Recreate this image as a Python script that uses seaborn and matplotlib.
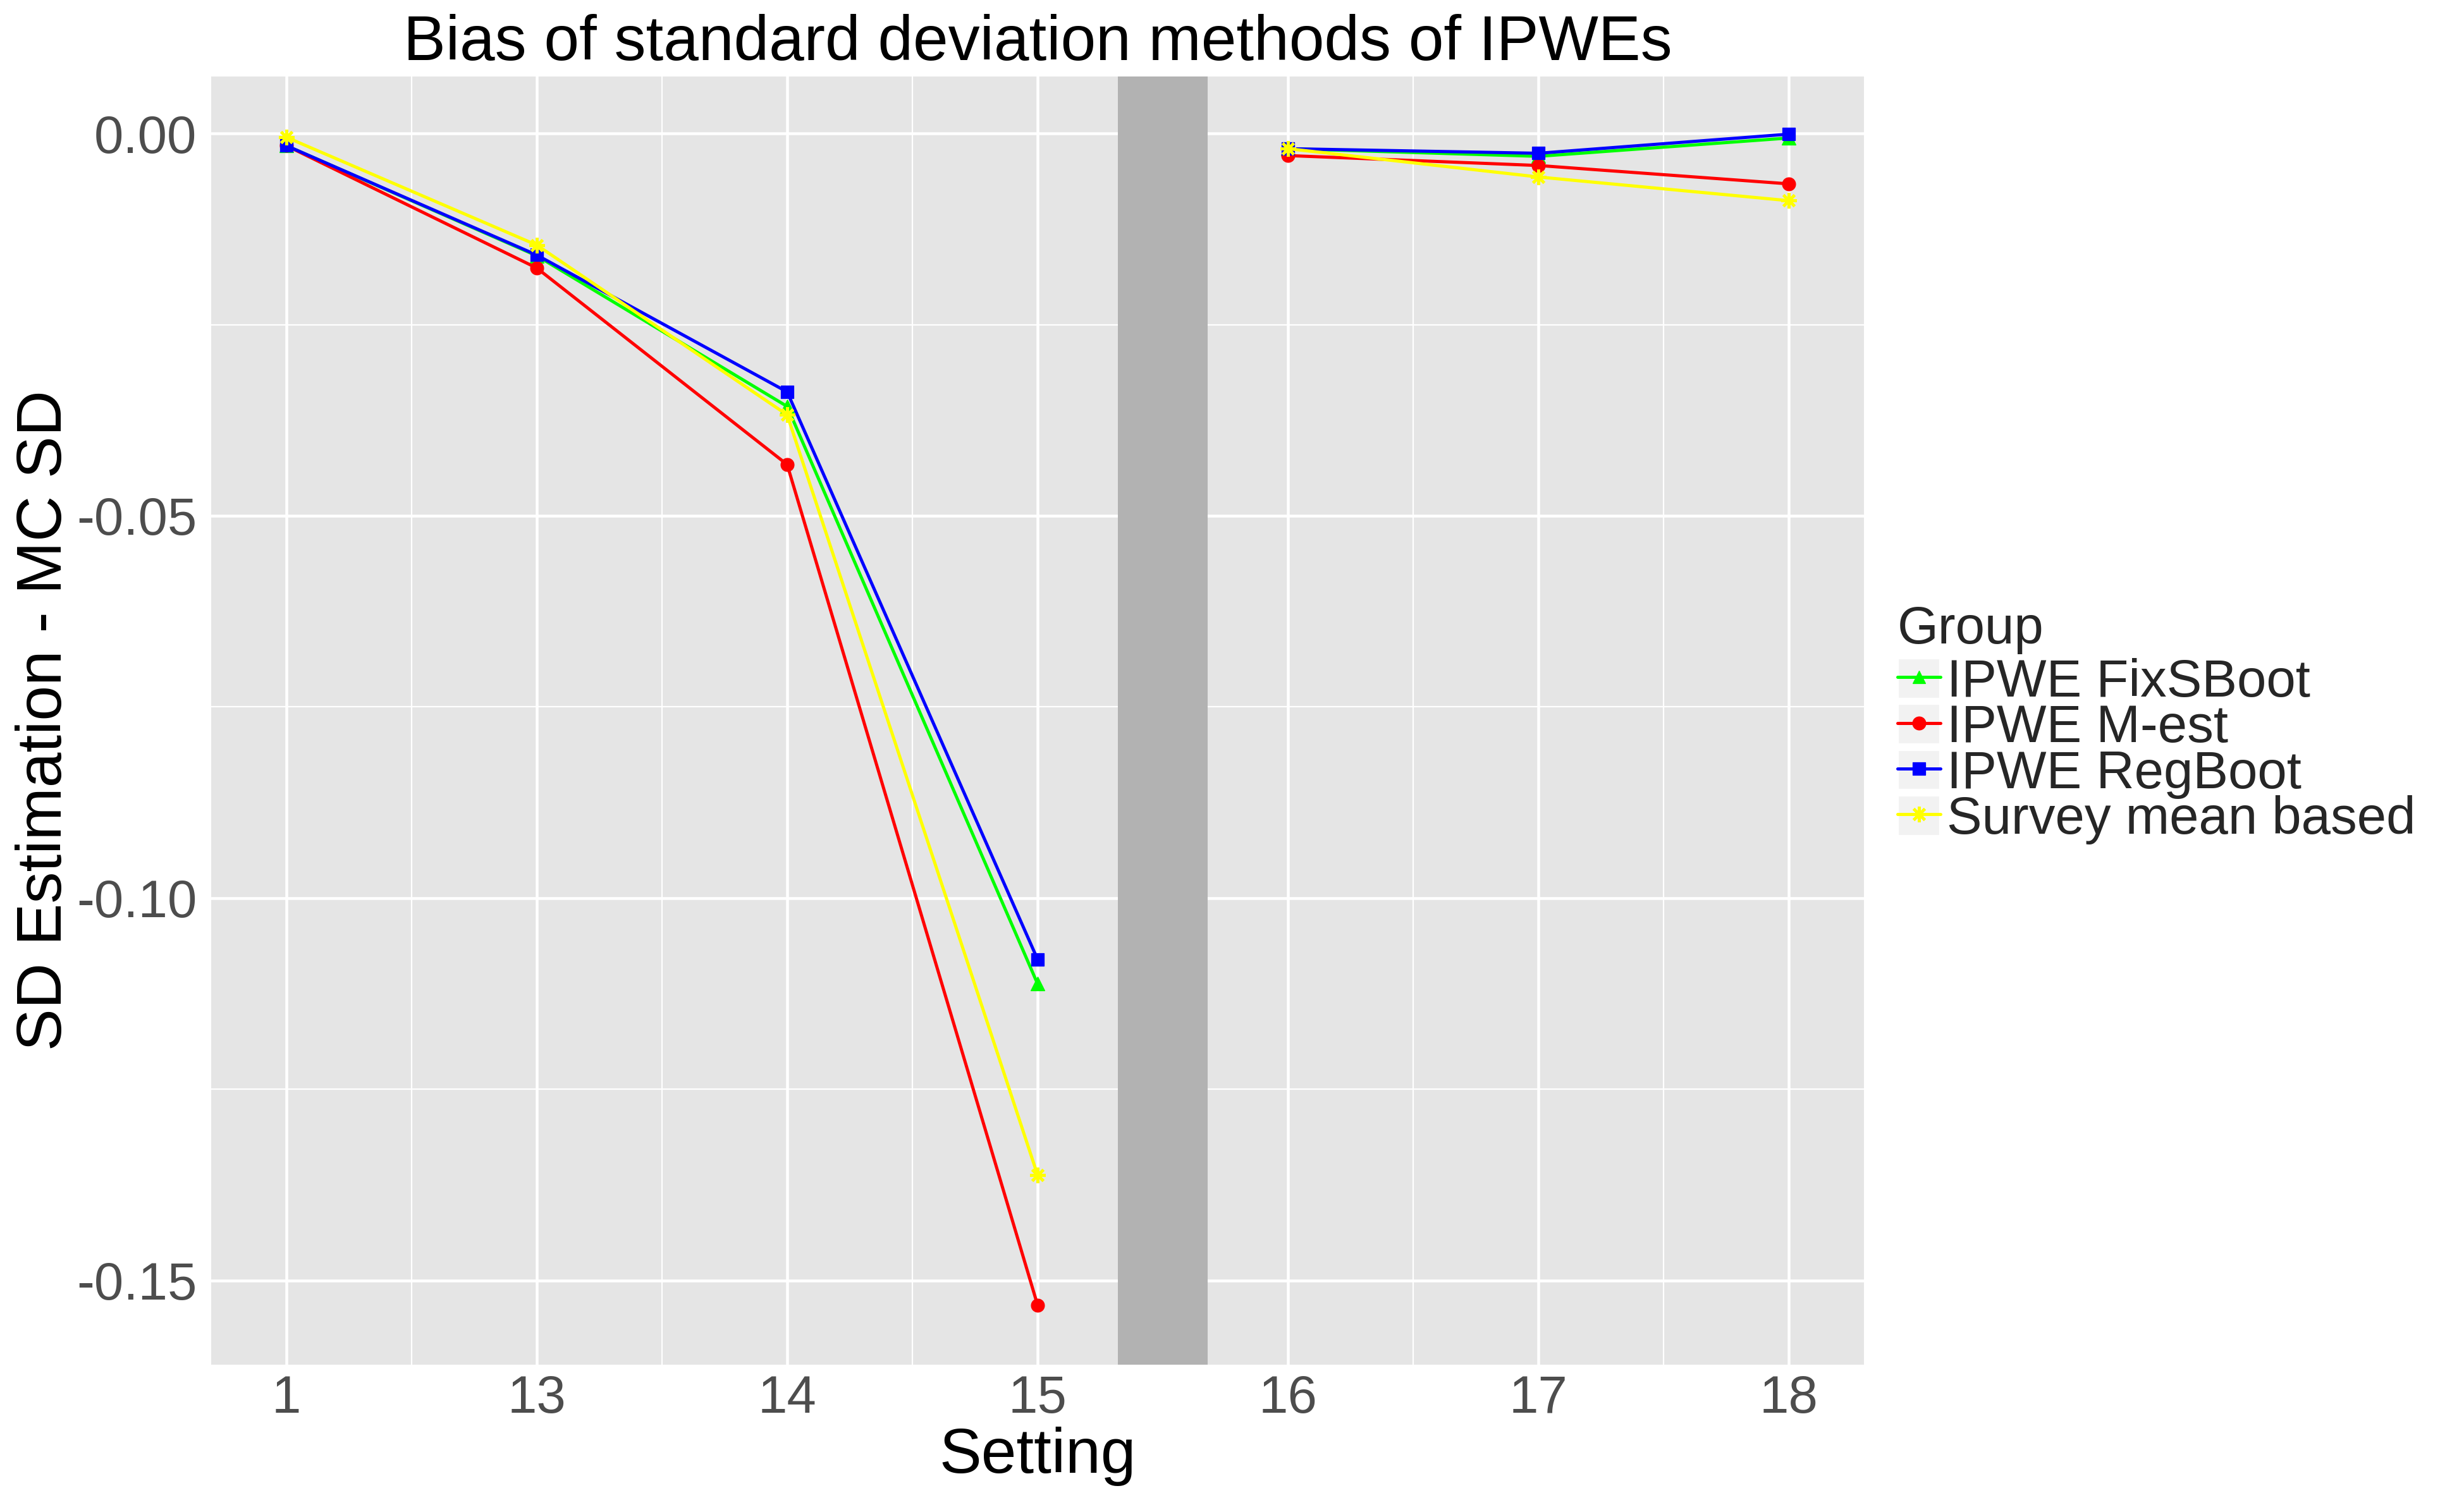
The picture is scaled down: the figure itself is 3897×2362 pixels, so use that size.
import numpy as np
import pandas as pd
import matplotlib
matplotlib.use("Agg")
import matplotlib.pyplot as plt
import matplotlib.colors as mcolors
import seaborn as sns
from matplotlib.lines import Line2D
from matplotlib.patches import Rectangle
from matplotlib.legend_handler import HandlerLine2D
from matplotlib.ticker import FixedLocator

# ---- data ----
settings = ["1", "13", "14", "15", "16", "17", "18"]
segment = [1, 1, 1, 1, 2, 2, 2]
groups = ["IPWE FixSBoot", "IPWE M-est", "IPWE RegBoot", "Survey mean based"]
fixsboot = [-0.0016, -0.0160, -0.0357, -0.1112, -0.0020, -0.0030, -0.0006]
mest = [-0.0016, -0.0176, -0.0433, -0.1532, -0.0029, -0.0042, -0.0066]
regboot = [-0.0016, -0.0159, -0.0338, -0.1080, -0.0020, -0.0026, -0.0001]
survey = [-0.0005, -0.0146, -0.0368, -0.1362, -0.0020, -0.0057, -0.0088]
colors = ["#00FF00", "#FF0000", "#0000FF", "#FFFF00"]
markers = ["^", "o", "s", (8, 2, 0)]

values = {"IPWE FixSBoot": fixsboot, "IPWE M-est": mest,
          "IPWE RegBoot": regboot, "Survey mean based": survey}
rows = []
for g in groups:
    for i, (s, seg, v) in enumerate(zip(settings, segment, values[g])):
        rows.append({"Group": g, "pos": i + 1, "Setting": s, "seg": seg, "value": v})
df = pd.DataFrame(rows)

# ---- style ----
sns.set_style("darkgrid", {"axes.facecolor": "#E5E5E5", "grid.color": "white"})
plt.rcParams["font.family"] = ["Liberation Sans", "DejaVu Sans"]

W, H = 3897, 2362
dpi = 300
PL, PR, PT, PB = 334, 2948, 121, 2159
fig = plt.figure(figsize=(W / dpi, H / dpi), dpi=dpi)
ax = fig.add_axes([PL / W, 1 - PB / H, (PR - PL) / W, (PB - PT) / H])
ax.set_facecolor("#E5E5E5")

palette = dict(zip(groups, colors))
# seaborn cannot mix filled and line-art markers; use placeholders, then swap
mk_seaborn = dict(zip(groups, ["^", "o", "s", "D"]))
mk_real = dict(zip([mcolors.to_hex(c) for c in colors], markers))

sns.lineplot(data=df, x="pos", y="value", hue="Group", style="Group",
             units="seg", estimator=None, hue_order=groups, style_order=groups,
             palette=palette, markers=mk_seaborn, dashes=False, linewidth=1.2,
             markersize=5, ax=ax, legend=False, sort=False)

for line in ax.lines:
    c = mcolors.to_hex(line.get_color())
    m = mk_real.get(c, line.get_marker())
    line.set_marker(m)
    line.set_markeredgecolor(c)
    line.set_markerfacecolor(c)
    if m == (8, 2, 0):
        line.set_markeredgewidth(1.1)
        line.set_markersize(6)
    elif m == "^":
        line.set_markeredgewidth(0.3)
        line.set_markersize(5.5)
    else:
        line.set_markeredgewidth(0.3)

# gap band
ax.axvspan(4.32, 4.68, color="#B2B2B2", zorder=1, lw=0)

ax.set_xlim(0.7, 7.3)
ax.set_ylim(-0.1610, 0.00744)
ax.xaxis.set_major_locator(FixedLocator(range(1, 8)))
ax.set_xticklabels(settings)
ax.xaxis.set_minor_locator(FixedLocator(np.arange(1.5, 7, 1.0)))
ax.yaxis.set_major_locator(FixedLocator([0.0, -0.05, -0.10, -0.15]))
ax.set_yticklabels(["0.00", "-0.05", "-0.10", "-0.15"])
ax.yaxis.set_minor_locator(FixedLocator([-0.025, -0.075, -0.125]))
ax.set_axisbelow(True)
ax.grid(which="major", color="white", linewidth=1.08)
ax.grid(which="minor", color="white", linewidth=0.53)
for sp in ax.spines.values():
    sp.set_visible(False)

ax.tick_params(axis="both", which="major", length=2.7, width=1.0, color="#333333",
               labelsize=20, labelcolor="#4D4D4D", pad=2.7)
ax.tick_params(axis="x", which="major", pad=1.0)
ax.tick_params(axis="both", which="minor", length=0)

ax.set_xlabel("Setting", fontsize=24, color="black", labelpad=1)
ax.set_ylabel("SD Estimation - MC SD", fontsize=24, color="black", labelpad=0.8)

fig.text((PL + PR) / 2 / W, 1 - 95 / H, "Bias of standard deviation methods of IPWEs",
         ha="center", va="baseline", fontsize=24, color="black")

# ---- legend ----
class KeyHandler(HandlerLine2D):
    def create_artists(self, legend, orig_handle, xdescent, ydescent, width, height,
                       fontsize, trans):
        arts = super().create_artists(legend, orig_handle, xdescent, ydescent, width,
                                      height, fontsize, trans)
        r = Rectangle((-xdescent, -ydescent), width, height, facecolor="#F2F2F2",
                      edgecolor="white", linewidth=1.0, transform=trans)
        return [r] + list(arts)

handles = []
for g, c, m in zip(groups, colors, markers):
    if m == (8, 2, 0):
        h = Line2D([], [], color=c, lw=1.2, marker=m, markersize=6, mec=c, mew=1.1)
    else:
        h = Line2D([], [], color=c, lw=1.2, marker=m, markersize=5, mec=c, mfc=c, mew=0.3)
    handles.append(h)

leg = fig.legend(handles, groups, title="Group", loc="upper left",
                 bbox_to_anchor=(3001 / W, 1 - 957 / H), frameon=False,
                 fontsize=20, title_fontsize=20, handlelength=0.82, handleheight=0.82,
                 handletextpad=0.12, labelspacing=-0.072, borderpad=0, borderaxespad=0,
                 alignment="left", numpoints=1,
                 handler_map={Line2D: KeyHandler(numpoints=1)})
leg._legend_box.sep = 1.4

fig.savefig("out.png", dpi=dpi)
